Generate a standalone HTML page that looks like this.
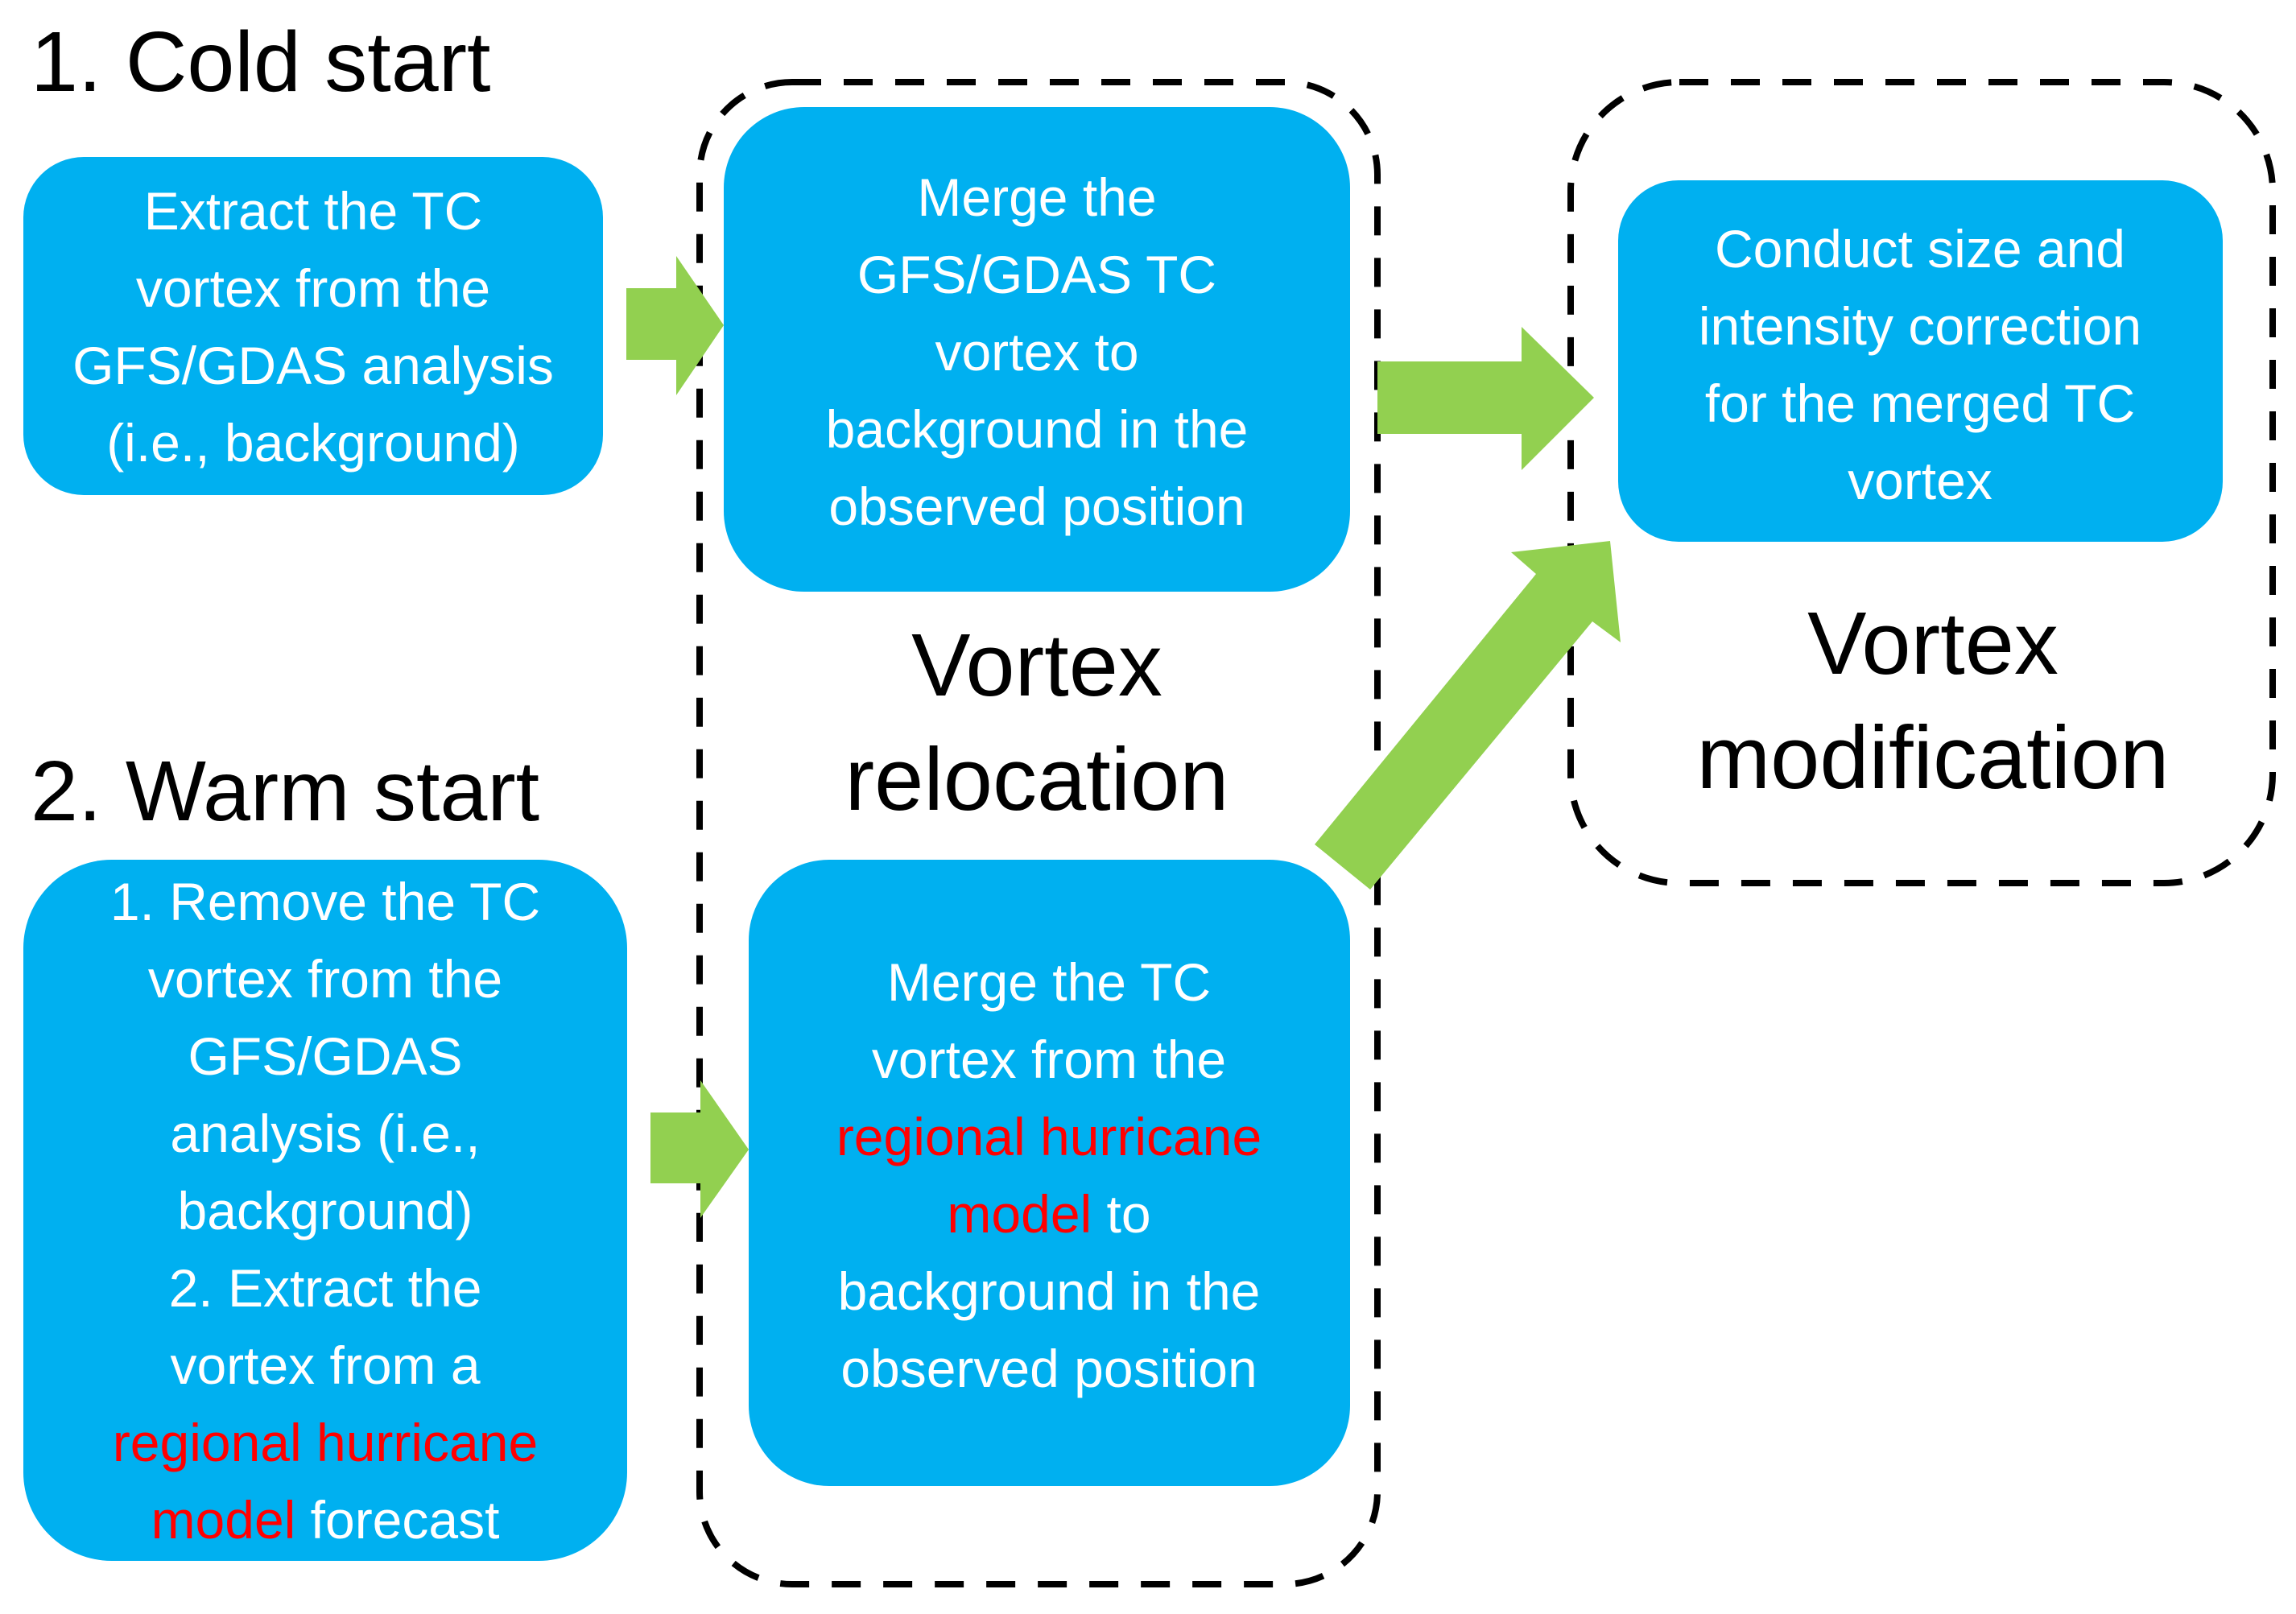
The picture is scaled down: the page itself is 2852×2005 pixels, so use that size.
<!DOCTYPE html>
<html><head><meta charset="utf-8"><style>
html,body{margin:0;padding:0;background:#fff}
svg{display:block}
text{font-family:"Liberation Sans",sans-serif}
.b{fill:#fff;font-size:66px;text-anchor:middle}
.r{fill:#ff0000}
.t{fill:#000;font-size:106px}
.v{fill:#000;font-size:110px;text-anchor:middle}
</style></head><body>
<svg width="2852" height="2005" viewBox="0 0 2852 2005" xmlns="http://www.w3.org/2000/svg">
<rect x="0" y="0" width="2852" height="2005" fill="#fff"/>
<rect x="869" y="102" width="842" height="1866" rx="115" fill="none" stroke="#000" stroke-width="8" stroke-dasharray="36 28"/>
<rect x="1951" y="102" width="872" height="995" rx="135" fill="none" stroke="#000" stroke-width="8" stroke-dasharray="36 28"/>
<rect x="29" y="195" width="720" height="420" rx="75" fill="#00b0f0"/>
<rect x="899" y="133" width="778" height="602" rx="100" fill="#00b0f0"/>
<rect x="2010" y="224" width="751" height="449" rx="75" fill="#00b0f0"/>
<rect x="29" y="1068" width="750" height="871" rx="110" fill="#00b0f0"/>
<rect x="930" y="1068" width="747" height="778" rx="100" fill="#00b0f0"/>
<g fill="#92d050">
<polygon points="778,358 840,358 840,318 899,404 840,491 840,447 778,447"/>
<polygon points="1711,449 1890,449 1890,406 1980,494 1890,584 1890,539 1711,539"/>
<polygon points="808,1382 870,1382 870,1342 930,1428 870,1513 870,1470 808,1470"/>
<polygon points="1633,1049 1908,713 1877,686 2000,672 2013,798 1978,772 1702,1105"/>
</g>
<text class="t" x="38" y="113">1. Cold start</text>
<text class="t" x="38" y="1019">2. Warm start</text>
<text class="v" x="1288" y="864">Vortex</text>
<text class="v" x="1288" y="1006">relocation</text>
<text class="v" x="2401" y="837">Vortex</text>
<text class="v" x="2401" y="979">modification</text>
<text class="b" x="389" y="285">Extract the TC</text>
<text class="b" x="389" y="381">vortex from the</text>
<text class="b" x="389" y="477">GFS/GDAS analysis</text>
<text class="b" x="389" y="573">(i.e., background)</text>
<text class="b" x="1288" y="268">Merge the</text>
<text class="b" x="1288" y="364">GFS/GDAS TC</text>
<text class="b" x="1288" y="460">vortex to</text>
<text class="b" x="1288" y="556">background in the</text>
<text class="b" x="1288" y="652">observed position</text>
<text class="b" x="2385" y="332">Conduct size and</text>
<text class="b" x="2385" y="428">intensity correction</text>
<text class="b" x="2385" y="524">for the merged TC</text>
<text class="b" x="2385" y="620">vortex</text>
<text class="b" x="404" y="1143">1. Remove the TC</text>
<text class="b" x="404" y="1239">vortex from the</text>
<text class="b" x="404" y="1335">GFS/GDAS</text>
<text class="b" x="404" y="1431">analysis (i.e.,</text>
<text class="b" x="404" y="1527">background)</text>
<text class="b" x="404" y="1623">2. Extract the</text>
<text class="b" x="404" y="1719">vortex from a</text>
<text class="b r" x="404" y="1815">regional hurricane</text>
<text class="b" x="404" y="1911"><tspan class="r">model</tspan> forecast</text>
<text class="b" x="1303" y="1243">Merge the TC</text>
<text class="b" x="1303" y="1339">vortex from the</text>
<text class="b r" x="1303" y="1435">regional hurricane</text>
<text class="b" x="1303" y="1531"><tspan class="r">model</tspan> to</text>
<text class="b" x="1303" y="1627">background in the</text>
<text class="b" x="1303" y="1723">observed position</text>
</svg>
</body></html>
